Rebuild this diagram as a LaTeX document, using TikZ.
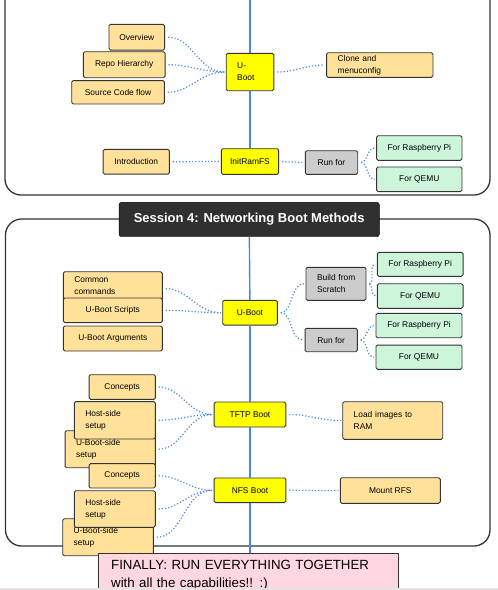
\documentclass[tikz,border=0pt]{standalone}
\usepackage{fontspec}
\setmainfont{Liberation Sans}
\usepackage{tikz}
\usetikzlibrary{arrows,shapes,positioning}
\usepackage{xcolor}
\definecolor{boxorange}{HTML}{FFE199}
\definecolor{boxyellow}{HTML}{FFFF00}
\definecolor{boxgray}{HTML}{CCCCCC}
\definecolor{boxgreen}{HTML}{CCF5DA}
\definecolor{linkblue}{HTML}{4A86E8}
\definecolor{titledark}{HTML}{303030}
\definecolor{finpink}{HTML}{FFD7E0}
\definecolor{pageband}{HTML}{E8E2E2}

\begin{document}
\begin{tikzpicture}[x=1pt, y=-1pt,
	box/.style={draw=black!80, line width=0.9pt, rounded corners=1.5pt, inner sep=0pt,
		font=\fontsize{8.4}{12}\selectfont, align=center},
	topic/.style={box, fill=boxorange},
	stage/.style={box, fill=boxyellow},
	runbox/.style={box, fill=boxgray},
	board/.style={box, fill=boxgreen},
	boxsize/.style 2 args={minimum width=#1, minimum height=#2},
	lefttext/.style={align=left, text width=#1, inner xsep=11pt},
	link/.style={draw=linkblue, line width=1.2pt, dotted, shorten <=3pt, shorten >=1.5pt},
	spine/.style={draw=linkblue, line width=1.4pt},
	frame/.style={draw=black!80, line width=1.3pt, rounded corners=16pt}] % {{{
		\useasboundingbox (0,0) rectangle (498,590);
		\pgfmathsetmacro{\spinex}{250}
		% Session 3 (top) {{{
		\draw[frame] (5,-40) rectangle (490,195);
		\coordinate (topin) at (\spinex,0);
		\node[topic, boxsize={55.7pt}{25.7pt}] (overview) at (136.8,37.2) {Overview};
		\node[topic, boxsize={81.7pt}{26pt}] (repo) at (124.2,64.7) {Repo Hierarchy};
		\node[topic, boxsize={92.6pt}{23.3pt}] (srcflow) at (118,92.3) {Source Code flow};
		\node[topic, boxsize={66.3pt}{24.7pt}] (intro) at (136.2,161.7) {Introduction};
		\node[stage, boxsize={47.6pt}{37.4pt}, lefttext=25.6pt] (uboot) at (\spinex,72) {U-\\Boot};
		\node[stage, boxsize={57.3pt}{25.6pt}] (initramfs) at (\spinex,161.5) {InitRamFS};
		\node[topic, boxsize={106.3pt}{24.6pt}, lefttext=84.3pt] (clone) at (379.8,65) {Clone and\\menuconfig};
		\node[runbox, boxsize={52.4pt}{23.6pt}] (runfor) at (331.5,162.5) {Run for};
		\node[board, boxsize={85.3pt}{24.6pt}] (rpi) at (419.3,148) {For Raspberry Pi};
		\node[board, boxsize={85.3pt}{24.7pt}] (qemu) at (419.3,179.3) {For QEMU};
		% }}}
		% Session 4 (bottom) {{{
		\draw[frame] (5.5,219) rectangle (490,546);
		\node[draw=black, fill=titledark, text=white, rounded corners=2.5pt, minimum width=260.3pt,
			minimum height=34.4pt, font=\bfseries\fontsize{13}{15}\selectfont] (session) at (249.2,219.5)
			{Session 4: Networking Boot Methods};
		\node[topic, boxsize={99pt}{28.6pt}, lefttext=77pt] (cmds) at (112.8,286) {Common\\commands};
		\node[topic, boxsize={99pt}{24.7pt}] (scripts) at (112.8,310.3) {U-Boot Scripts};
		\node[topic, boxsize={99pt}{25pt}] (args) at (112.8,338.5) {U-Boot Arguments};
		\node[stage, boxsize={54.6pt}{24.7pt}] (uboottwo) at (\spinex,312.7) {U-Boot};
		\node[runbox, boxsize={60pt}{33pt}, lefttext=38pt] (scratch) at (336,283.8) {Build~from\\Scratch};
		\node[runbox, boxsize={52.3pt}{23.4pt}] (runtwo) at (331.2,340) {Run for};
		\node[board, boxsize={85.7pt}{24pt}] (rpitwo) at (420.2,264.3) {For Raspberry Pi};
		\node[board, boxsize={85.7pt}{24.6pt}] (qemutwo) at (420.2,296) {For QEMU};
		\node[board, boxsize={86pt}{24.4pt}] (rpithree) at (419,325.5) {For Raspberry Pi};
		\node[board, boxsize={86pt}{24.3pt}] (qemuthree) at (419,357.2) {For QEMU};
		\node[stage, boxsize={71.7pt}{25pt}] (tftp) at (\spinex,414.5) {TFTP Boot};
		\node[stage, boxsize={71.7pt}{24.7pt}] (nfs) at (\spinex,490.3) {NFS Boot};
		\node[topic, boxsize={66.3pt}{24.6pt}] (tftpconcepts) at (122.2,387) {Concepts};
		\node[topic, boxsize={90.3pt}{37pt}, lefttext=68.3pt] (tftpuside) at (110.2,449.2) {U-Boot-side\\setup};
		\node[topic, boxsize={81pt}{37.3pt}, lefttext=59pt] (tftphost) at (114.8,420.3) {Host-side\\setup};
		\node[topic, boxsize={66.3pt}{24.3pt}] (nfsconcepts) at (122.2,475.8) {Concepts};
		\node[topic, boxsize={90.6pt}{37pt}, lefttext=68.6pt] (nfsuside) at (108,537.2) {U-Boot-side\\setup};
		\node[topic, boxsize={81pt}{36.6pt}, lefttext=59pt] (nfshost) at (114.8,509) {Host-side\\setup};
		\node[topic, boxsize={100pt}{37.6pt}, lefttext=78pt] (loadram) at (392.7,420.5) {Load images to\\RAM};
		\node[topic, boxsize={100pt}{25.6pt}] (mountrfs) at (390.3,490.5) {Mount RFS};
		\coordinate (botout) at (\spinex,565);
		% }}}
		% Spine and links {{{
		\draw[spine] (topin) -- (uboot.north);
		\draw[spine] (uboot) -- (initramfs);
		\draw[spine] (session) -- (uboottwo);
		\draw[spine] (uboottwo) -- (tftp);
		\draw[spine] (tftp) -- (nfs);
		\draw[spine] (nfs) -- (botout);
		\draw[link] (overview.east) to[out=0, in=180] (uboot.west);
		\draw[link] (repo.east) to[out=0, in=180] (uboot.west);
		\draw[link] (srcflow.east) to[out=0, in=180] (uboot.west);
		\draw[link] (uboot.east) to[out=0, in=180] (clone.west);
		\draw[link] (intro.east) -- (initramfs.west);
		\draw[link] (initramfs.east) -- (runfor.west);
		\draw[link] (runfor.east) to[out=0, in=180] (rpi.west);
		\draw[link] (runfor.east) to[out=0, in=180] (qemu.west);
		\draw[link] (cmds.-3) to[out=0, in=180] (uboottwo.west);
		\draw[link] (scripts.east) to[out=0, in=180] (uboottwo.west);
		\draw[link] (uboottwo.east) to[out=0, in=180] (scratch.west);
		\draw[link] (uboottwo.east) to[out=0, in=180] (runtwo.west);
		\draw[link] (scratch.east) to[out=0, in=180] (rpitwo.west);
		\draw[link] (scratch.east) to[out=0, in=180] (qemutwo.west);
		\draw[link] (runtwo.east) to[out=0, in=180] (rpithree.west);
		\draw[link] (runtwo.east) to[out=0, in=180] (qemuthree.west);
		\draw[link] (tftpconcepts.east) to[out=0, in=180] (tftp.west);
		\draw[link] (tftphost.east) to[out=0, in=180] (tftp.west);
		\draw[link] (tftpuside.east) to[out=0, in=180] (tftp.west);
		\draw[link] (tftp.east) to[out=0, in=180] (loadram.west);
		\draw[link] (nfsconcepts.east) to[out=0, in=180] (nfs.west);
		\draw[link] (nfshost.east) to[out=0, in=180] (nfs.west);
		\draw[link] (nfsuside.east) to[out=0, in=180] (nfs.west);
		\draw[link] (nfs.east) -- (mountrfs.west);
		% }}}
		% Finale {{{
		\node[draw=black!80, line width=0.9pt, fill=finpink, anchor=north west, text width=275.2pt,
			align=left, inner xsep=12.4pt, inner ysep=7pt, font=\fontsize{13.3}{18}\selectfont] (finale)
			at (98.3,552.7) {FINALLY: RUN EVERYTHING TOGETHER\\with all the capabilities!! :)};
		\fill[pageband] (0,587.5) rectangle (498,600);
		% }}}
	\end{tikzpicture} % }}}
\end{document}
